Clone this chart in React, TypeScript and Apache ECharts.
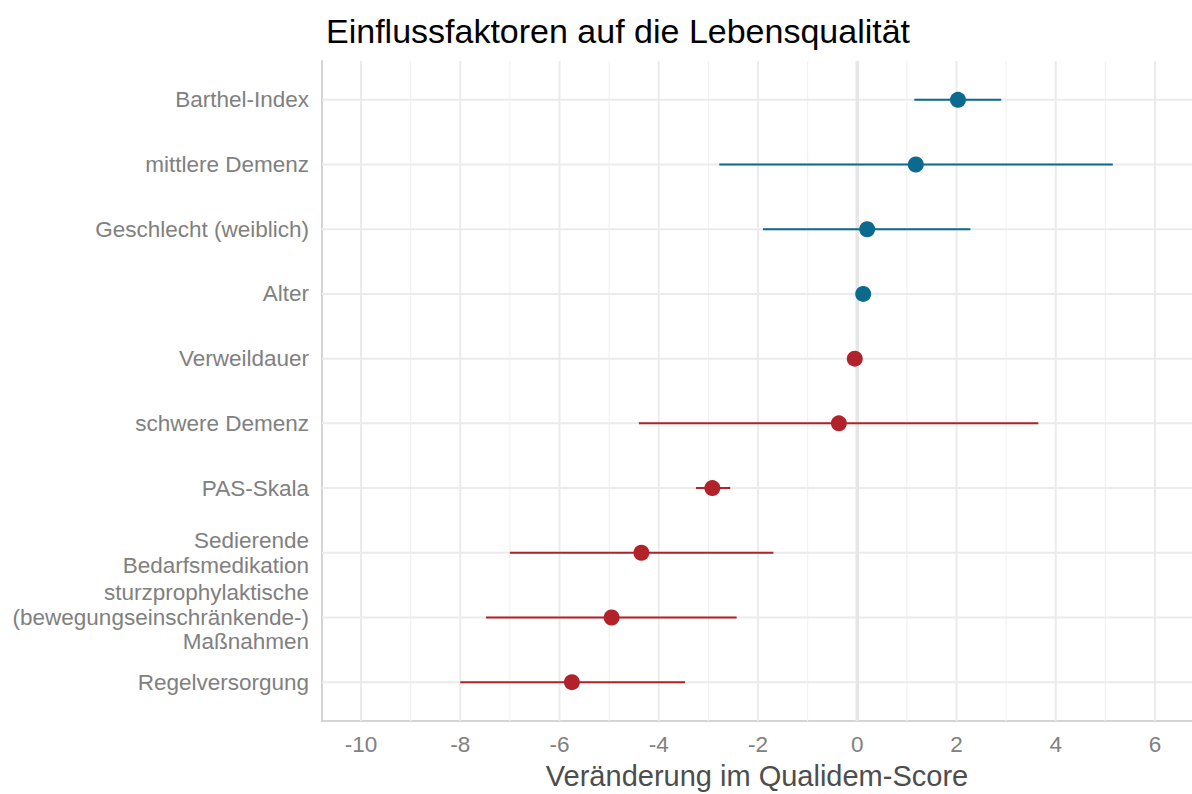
import React, { useEffect, useRef } from "react";
import * as echarts from "echarts";

const CATEGORIES = [
  "Barthel-Index",
  "mittlere Demenz",
  "Geschlecht (weiblich)",
  "Alter",
  "Verweildauer",
  "schwere Demenz",
  "PAS-Skala",
  "Sedierende\nBedarfsmedikation",
  "sturzprophylaktische\n(bewegungseinschränkende-)\nMaßnahmen",
  "Regelversorgung",
];
const ESTIMATES = [2.03, 1.18, 0.2, 0.12, -0.05, -0.37, -2.92, -4.35, -4.95, -5.75];
const CI_LOW = [1.15, -2.78, -1.9, 0.1, -0.08, -4.4, -3.25, -7.0, -7.48, -8.0];
const CI_HIGH = [2.9, 5.15, 2.28, 0.14, -0.02, 3.65, -2.56, -1.69, -2.43, -3.47];

const X_TICKS = [-10, -8, -6, -4, -2, 0, 2, 4, 6];
const X_MINOR = [-9, -7, -5, -3, -1, 1, 3, 5];
const X_MIN = -10.786;
const X_MAX = 6.746;

const BLUE = "#0b6a8e";
const RED = "#b2222a";
const FONT = "Liberation Sans, Arial, Helvetica, sans-serif";

const N = CATEGORIES.length;
const yPos = (i: number) => N - i;
const colorOf = (v: number) => (v >= 0 ? BLUE : RED);

export default function App() {
  const ref = useRef<HTMLDivElement>(null);
  useEffect(() => {
    if (!ref.current) return;
    const chart = echarts.init(ref.current, undefined, { renderer: "svg" });

    const vLine = (stroke: string, width: number) => (params: any, api: any) => {
      const cs = params.coordSys;
      const x = api.coord([api.value(0), 5])[0];
      return {
        type: "line",
        shape: { x1: x, y1: cs.y, x2: x, y2: cs.y + cs.height },
        style: { stroke, lineWidth: width },
      };
    };

    const option: any = {
      animation: false,
      backgroundColor: "#ffffff",
      title: {
        text: "Einflussfaktoren auf die Lebensqualität",
        left: 321,
        top: 9,
        textStyle: { fontFamily: FONT, fontSize: 34, fontWeight: "normal", color: "#000000" },
      },
      grid: {
        left: 322,
        right: 0,
        top: 61,
        bottom: 73,
        containLabel: false,
        outerBoundsMode: "none",
      },
      xAxis: {
        type: "value",
        min: X_MIN,
        max: X_MAX,
        name: "Veränderung im Qualidem-Score",
        nameLocation: "middle",
        nameGap: 40,
        nameTextStyle: { fontFamily: FONT, fontSize: 29, color: "#4d4d4d" },
        axisLine: { show: true, onZero: false, lineStyle: { color: "#d4d4d4", width: 2 } },
        axisTick: { show: false },
        splitLine: { show: false },
        axisLabel: {
          customValues: X_TICKS,
          fontFamily: FONT,
          fontSize: 22.5,
          color: "#808080",
          margin: 12,
          formatter: (v: number) => String(v),
        },
      },
      yAxis: {
        type: "value",
        min: 0.4,
        max: N + 0.6,
        axisLine: { show: true, onZero: false, lineStyle: { color: "#d4d4d4", width: 2 } },
        axisTick: { show: false },
        splitLine: { show: false },
        axisLabel: {
          customValues: CATEGORIES.map((_, i) => yPos(i)),
          fontFamily: FONT,
          fontSize: 22.5,
          color: "#808080",
          margin: 13,
          lineHeight: 24.5,
          align: "right",
          formatter: (v: number) => CATEGORIES[N - Math.round(v)] ?? "",
        },
      },
      series: [
        {
          type: "custom",
          silent: true,
          z: 1,
          data: X_MINOR.map((v) => [v]),
          renderItem: vLine("#f2f2f2", 1.2),
        },
        {
          type: "custom",
          silent: true,
          z: 1,
          data: X_TICKS.filter((v) => v !== 0).map((v) => [v]),
          renderItem: vLine("#ebebeb", 2),
        },
        {
          type: "custom",
          silent: true,
          z: 1,
          data: CATEGORIES.map((_, i) => [0, yPos(i)]),
          renderItem: (params: any, api: any) => {
            const cs = params.coordSys;
            const y = api.coord([0, api.value(1)])[1];
            return {
              type: "line",
              shape: { x1: cs.x, y1: y, x2: cs.x + cs.width, y2: y },
              style: { stroke: "#ebebeb", lineWidth: 2 },
            };
          },
        },
        {
          type: "custom",
          silent: true,
          z: 2,
          data: [[0]],
          renderItem: vLine("#e6e6e6", 3.5),
        },
        {
          type: "custom",
          silent: true,
          z: 3,
          encode: { x: [0, 1], y: 2 },
          data: CATEGORIES.map((_, i) => ({
            value: [CI_LOW[i], CI_HIGH[i], yPos(i)],
            itemStyle: { color: colorOf(ESTIMATES[i]) },
          })),
          renderItem: (params: any, api: any) => {
            const p1 = api.coord([api.value(0), api.value(2)]);
            const p2 = api.coord([api.value(1), api.value(2)]);
            return {
              type: "line",
              shape: { x1: p1[0], y1: p1[1], x2: p2[0], y2: p2[1] },
              style: { stroke: api.visual("color"), lineWidth: 2 },
            };
          },
        },
        {
          type: "scatter",
          z: 4,
          symbol: "circle",
          symbolSize: 16,
          silent: true,
          data: CATEGORIES.map((_, i) => ({
            value: [ESTIMATES[i], yPos(i)],
            itemStyle: { color: colorOf(ESTIMATES[i]), opacity: 1 },
          })),
        },
      ],
    };
    chart.setOption(option);
    return () => chart.dispose();
  }, []);
  return (
    <div
      ref={ref}
      style={{ position: "absolute", left: 0, top: 0, width: 1192, height: 794 }}
    />
  );
}
